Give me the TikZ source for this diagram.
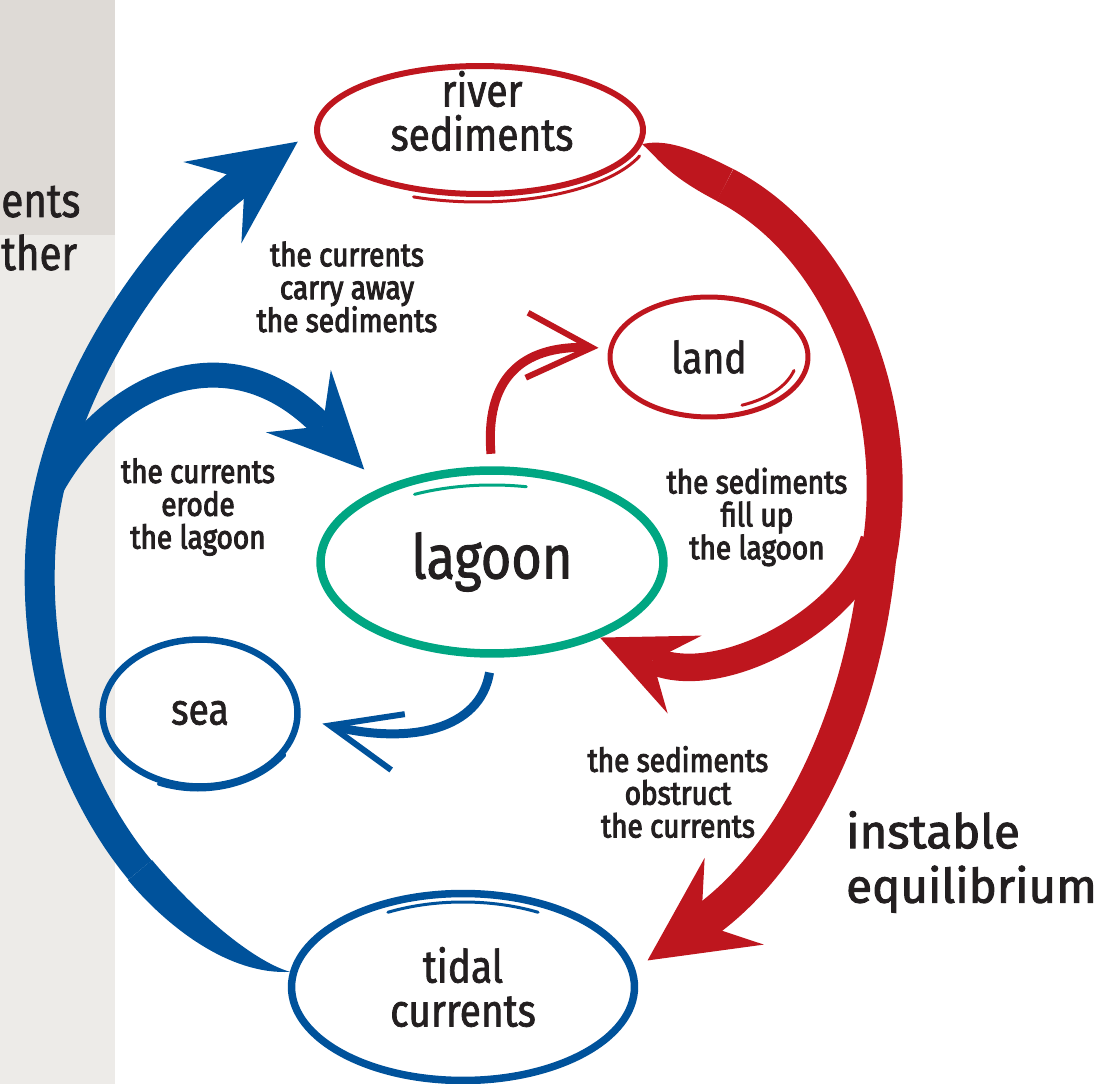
\documentclass[tikz,border=0pt]{standalone}
\usepackage{fontspec}
\setmainfont{Fira Sans}[FakeStretch=0.85, FakeBold=1.5]
\newfontfamily\notefont{Fira Sans}[FakeStretch=0.85, FakeBold=3]
\newfontfamily\widefont{Fira Sans}[FakeBold=2]
\usetikzlibrary{arrows.meta,shapes.geometric}
\definecolor{seablue}{RGB}{0,82,155}
\definecolor{riverred}{RGB}{190,22,30}
\definecolor{lagoongreen}{RGB}{0,166,130}
\definecolor{ink}{RGB}{35,31,32}
\definecolor{paper}{RGB}{222,218,214}
\definecolor{paperlight}{RGB}{237,235,232}
\tikzset{
	ring/.style={ellipse, draw, inner sep=0pt, text=ink, align=center, font=\fontsize{26}{25}\selectfont},
	note/.style={text=ink, align=center, font=\notefont\fontsize{18.7}{18.7}\selectfont},
	bigflow/.style={line width=0.6cm, -{Stealth[length=2.1cm, width=2cm, inset=0.8cm, line width=0pt]}},
	thinflow/.style={line width=0.18cm, -{Straight Barb[length=1.3cm, width=1.3cm, line width=0.12cm]}},
	stroke/.style={line width=0.06cm, line cap=round}
}

\begin{document}
\begin{tikzpicture}[x=0.02cm, y=-0.02cm]
	%%%%% START %%%%%
	\clip (0,0) rectangle (1107,1084);
	
	\fill[paperlight] (0,0) rectangle (115,1084);
	\fill[paper] (0,0) rectangle (115,235);
	\node[anchor=base west, inner sep=0pt, text=ink, font=\fontsize{27}{31}\selectfont] (ents) at (1,217) {ents};
	\node[anchor=base west, inner sep=0pt, text=ink, font=\fontsize{27}{31}\selectfont] (ther) at (1,270) {ther};
	
	\node[ring, draw=riverred, line width=0.12cm, minimum width=6.52cm, minimum height=2.56cm] (river) at (480,130) {};
	\node[ring, draw=none] (rivertext) at (482,111) {river\\sediments};
	\node[ring, draw=riverred, line width=0.1cm, minimum width=3.96cm, minimum height=2.4cm, font=\fontsize{25}{25}\selectfont] (land) at (709,357) {land};
	\node[ring, draw=lagoongreen, line width=0.17cm, minimum width=6.86cm, minimum height=3.66cm, font=\fontsize{35}{35}\selectfont] (lagoon) at (492,562) {lagoon};
	\node[ring, draw=seablue, line width=0.13cm, minimum width=3.9cm, minimum height=2.94cm, font=\fontsize{25}{25}\selectfont] (sea) at (200,713) {sea};
	\node[ring, draw=seablue, line width=0.15cm, minimum width=6.86cm, minimum height=3.74cm] (tidal) at (463,987) {tidal\\currents};
	
	% second brush strokes on the rings
	\draw[stroke, riverred] (478,132) ++(20:172 and 70) arc[start angle=20, end angle=112, x radius=172, y radius=70];
	\draw[stroke, riverred] (709,357) ++(15:88 and 52) arc[start angle=15, end angle=68, x radius=88, y radius=52];
	\draw[stroke, lagoongreen] (492,565) ++(-118:165 and 80) arc[start angle=-118, end angle=-78, x radius=165, y radius=80];
	\draw[stroke, seablue] (198,708) ++(35:106 and 82) arc[start angle=35, end angle=112, x radius=106, y radius=82];
	\draw[stroke, seablue] (463,990) ++(-118:160 and 88) arc[start angle=-118, end angle=-62, x radius=160, y radius=88];
	
	\node[note] (carry) at (347,287) {the currents\\carry away\\the sediments};
	\node[note] (erode) at (198,507) {the currents\\erode\\the lagoon};
	\node[note] (fillup) at (757,517) {the sediments\\fill up\\the lagoon};
	\node[note] (obstruct) at (678,792) {the sediments\\obstruct\\the currents};
	\node[anchor=west, align=left, text=ink, font=\widefont\fontsize{27}{31}\selectfont] (balance) at (840,862) {instable\\equilibrium};
	
	\coordinate (bluetail) at (140,870);
	\coordinate (bluebend) at (40,560);
	\coordinate (bluefork) at (50,490);
	\coordinate (redtail) at (725,185);
	\coordinate (redbend) at (878,560);
	\coordinate (redfork) at (874,540);
	
	% blue loop, tapered tail first
	\fill[seablue] (tidal.175) .. controls (250,960) and (192,908) .. ([shift={(12,-10)}]bluetail) -- ([shift={(-12,10)}]bluetail) .. controls (168,928) and (230,975) .. (tidal.175) -- cycle;
	\draw[bigflow, seablue, shorten >=0.4cm] (bluetail) .. controls (90,810) and (35,700) .. (bluebend) .. controls (45,400) and (160,240) .. (river.west);
	\draw[bigflow, seablue, line width=0.5cm, -{Stealth[length=1.9cm, width=1.8cm, inset=0.7cm, line width=0pt]}, shorten >=0.5cm] (bluefork) .. controls (110,380) and (230,330) .. (lagoon.146);
	
	% red loop
	\fill[riverred] (river.-5) .. controls (660,140) and (683,143) .. ([shift={(8,-16)}]redtail) -- ([shift={(-8,16)}]redtail) .. controls (667,175) and (660,160) .. (river.-5) -- cycle;
	\draw[bigflow, riverred, line width=0.72cm, -{Stealth[length=2.1cm, width=2.1cm, inset=0.8cm, line width=0pt]}, shorten >=0.3cm] (redtail) .. controls (850,250) and (905,420) .. (redbend) .. controls (860,740) and (780,870) .. (tidal.6);
	\draw[bigflow, riverred, line width=0.55cm, -{Stealth[length=1.85cm, width=1.7cm, inset=0.7cm, line width=0pt]}] (redfork) .. controls (850,620) and (720,690) .. (lagoon.-35);
	
	% small arrows
	\draw[thinflow, riverred, shorten <=0.25cm, shorten >=0.2cm] (lagoon.north) .. controls (485,380) and (520,345) .. (land.175);
	\draw[thinflow, seablue, shorten <=0.3cm, shorten >=0.45cm, -{Straight Barb[length=1.4cm, width=1.15cm, line width=0.12cm]}] (lagoon.south) .. controls (480,730) and (410,745) .. (sea.-3);
	
	%%%%% END %%%%%
\end{tikzpicture}
\end{document}
